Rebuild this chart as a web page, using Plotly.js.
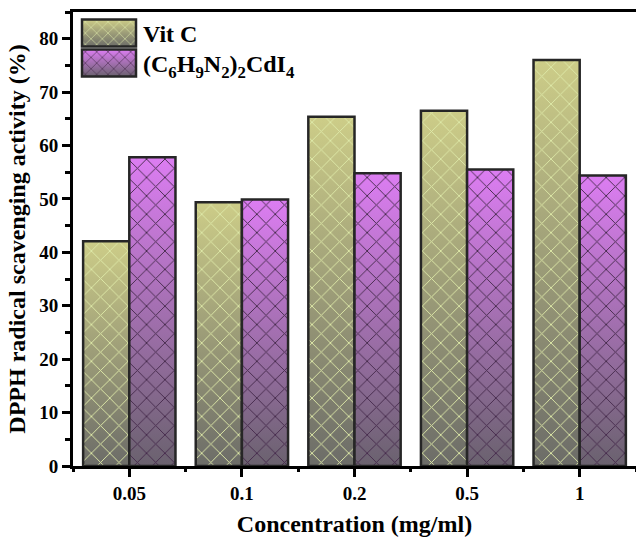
<!DOCTYPE html>
<html><head><meta charset="utf-8">
<script src="https://cdn.plot.ly/plotly-3.0.1.min.js"></script>
<style>html,body{margin:0;padding:0;background:#fff;overflow:hidden}</style>
</head><body>
<div id="chart" style="width:636px;height:539px"></div>
<script>
const categories = ['0.05', '0.1', '0.2', '0.5', '1'];
const vitC = [42.1, 49.4, 65.4, 66.5, 76.0];
const cdComplex = [57.8, 49.9, 54.8, 55.5, 54.4];
const seriesNames = ['Vit C', '(C<sub>6</sub>H<sub>9</sub>N<sub>2</sub>)<sub>2</sub>CdI<sub>4</sub>'];
const yTicks = [0, 10, 20, 30, 40, 50, 60, 70, 80];

const xPos = categories.map((c, i) => i);
const FONT = 'Liberation Serif, Times New Roman, serif';

const traces = [
  {type: 'bar', name: seriesNames[0], x: xPos, y: vitC,
   marker: {color: '#bcbc80', line: {color: '#262626', width: 2.5},
            pattern: {shape: 'x', size: 13, solidity: 0.14, fgcolor: '#dde8a8', fillmode: 'replace'}}},
  {type: 'bar', name: seriesNames[1], x: xPos, y: cdComplex,
   marker: {color: '#c878dc', line: {color: '#262626', width: 2.5},
            pattern: {shape: 'x', size: 13, solidity: 0.14, fgcolor: '#462a4c', fillmode: 'replace'}}}
];

const layout = {
  width: 636, height: 539,
  margin: {l: 73, r: 0, t: 12, b: 73},
  paper_bgcolor: '#fff', plot_bgcolor: '#fff',
  font: {family: FONT, size: 19, color: '#000', weight: 'bold'},
  barmode: 'group', bargap: 0.18, bargroupgap: 0,
  showlegend: true,
  legend: {x: 0.0, y: 1.0, xanchor: 'left', yanchor: 'top', bgcolor: 'rgba(0,0,0,0)',
           font: {family: FONT, size: 24, weight: 'bold'}, itemwidth: 60, tracegroupgap: 0},
  xaxis: {range: [-0.5, 4.5], tickmode: 'array', tickvals: xPos, ticktext: categories,
          showline: true, linewidth: 3, linecolor: '#000', mirror: true,
          ticks: 'outside', ticklen: 8, tickwidth: 3, tickcolor: '#000', showgrid: false, zeroline: false,
          tickfont: {family: FONT, size: 19, weight: 'bold'},
          minor: {tickmode: 'linear', tick0: 0.5, dtick: 1, ticks: 'outside', ticklen: 3, tickwidth: 3, tickcolor: '#000', showgrid: false},
          title: {text: 'Concentration (mg/ml)', font: {family: FONT, size: 24, weight: 'bold'}, standoff: 13}},
  yaxis: {range: [0, 85], tickmode: 'array', tickvals: yTicks,
          showline: true, linewidth: 3, linecolor: '#000', mirror: false,
          ticks: 'outside', ticklen: 8, tickwidth: 3, tickcolor: '#000', showgrid: false, zeroline: false,
          tickfont: {family: FONT, size: 19, weight: 'bold'},
          minor: {tickmode: 'linear', tick0: 5, dtick: 10, ticks: 'outside', ticklen: 5, tickwidth: 3, tickcolor: '#000', showgrid: false},
          title: {text: 'DPPH radical scavenging activity (%)', font: {family: FONT, size: 24, weight: 'bold'}, standoff: 7}}
};

function decorate(gd) {
  const NS = 'http://www.w3.org/2000/svg';
  const svg = gd.querySelector('svg.main-svg');
  let defs = svg.querySelector('defs');
  const grads = [['gradVit', '#cdcd88', '#6c6c68'], ['gradCd', '#dc7df2', '#6a626e']];
  grads.forEach(([id, c1, c2]) => {
    const g = document.createElementNS(NS, 'linearGradient');
    g.setAttribute('id', id);
    g.setAttribute('x1', '0'); g.setAttribute('y1', '0');
    g.setAttribute('x2', '0'); g.setAttribute('y2', '1');
    [[0, c1], [1, c2]].forEach(([o, c]) => {
      const s = document.createElementNS(NS, 'stop');
      s.setAttribute('offset', o); s.setAttribute('stop-color', c);
      g.appendChild(s);
    });
    defs.appendChild(g);
  });
  gd.querySelectorAll('.barlayer .trace').forEach((tr, i) => {
    tr.querySelectorAll('.point path').forEach(p => {
      const c = p.cloneNode(false);
      c.removeAttribute('style');
      c.style.fill = 'url(#' + grads[i][0] + ')';
      c.style.stroke = 'none';
      p.parentNode.insertBefore(c, p);
    });
  });
  const legendItems = gd.querySelectorAll('.legend .traces');
  let firstY = null;
  legendItems.forEach((tr, i) => {
    // tighten the vertical spacing of legend entries
    const tf = tr.getAttribute('transform') || '';
    const mm = tf.match(/translate\(\s*([-\d.]+)[ ,]+([-\d.]+)\s*\)/);
    if (mm) {
      const x0 = parseFloat(mm[1]), y0 = parseFloat(mm[2]);
      if (firstY === null) firstY = y0 - 1;
      tr.setAttribute('transform', 'translate(' + x0 + ',' + (firstY + i * 30) + ')');
    }
    const p = tr.querySelector('.legendpoints path');
    const t = tr.querySelector('.legendtext');
    if (!p || !t) return;
    const tb = t.getBoundingClientRect();
    const m = p.getScreenCTM().inverse();
    const pt = svg.createSVGPoint();
    pt.x = tb.left - 7; pt.y = 0;
    const lp = pt.matrixTransform(m);
    const w = 54, h = 27;
    const d = 'M' + (lp.x - w) + ',' + (-h / 2) + 'H' + lp.x + 'V' + (h / 2) + 'H' + (lp.x - w) + 'Z';
    p.setAttribute('d', d);
    const c = p.cloneNode(false);
    c.removeAttribute('style');
    c.style.fill = 'url(#' + grads[i][0] + ')';
    c.style.stroke = 'none';
    p.parentNode.insertBefore(c, p);
  });
}

const gd = document.getElementById('chart');
Plotly.newPlot(gd, traces, layout, {displayModeBar: false, staticPlot: true}).then(() => decorate(gd));
</script>
</body></html>
